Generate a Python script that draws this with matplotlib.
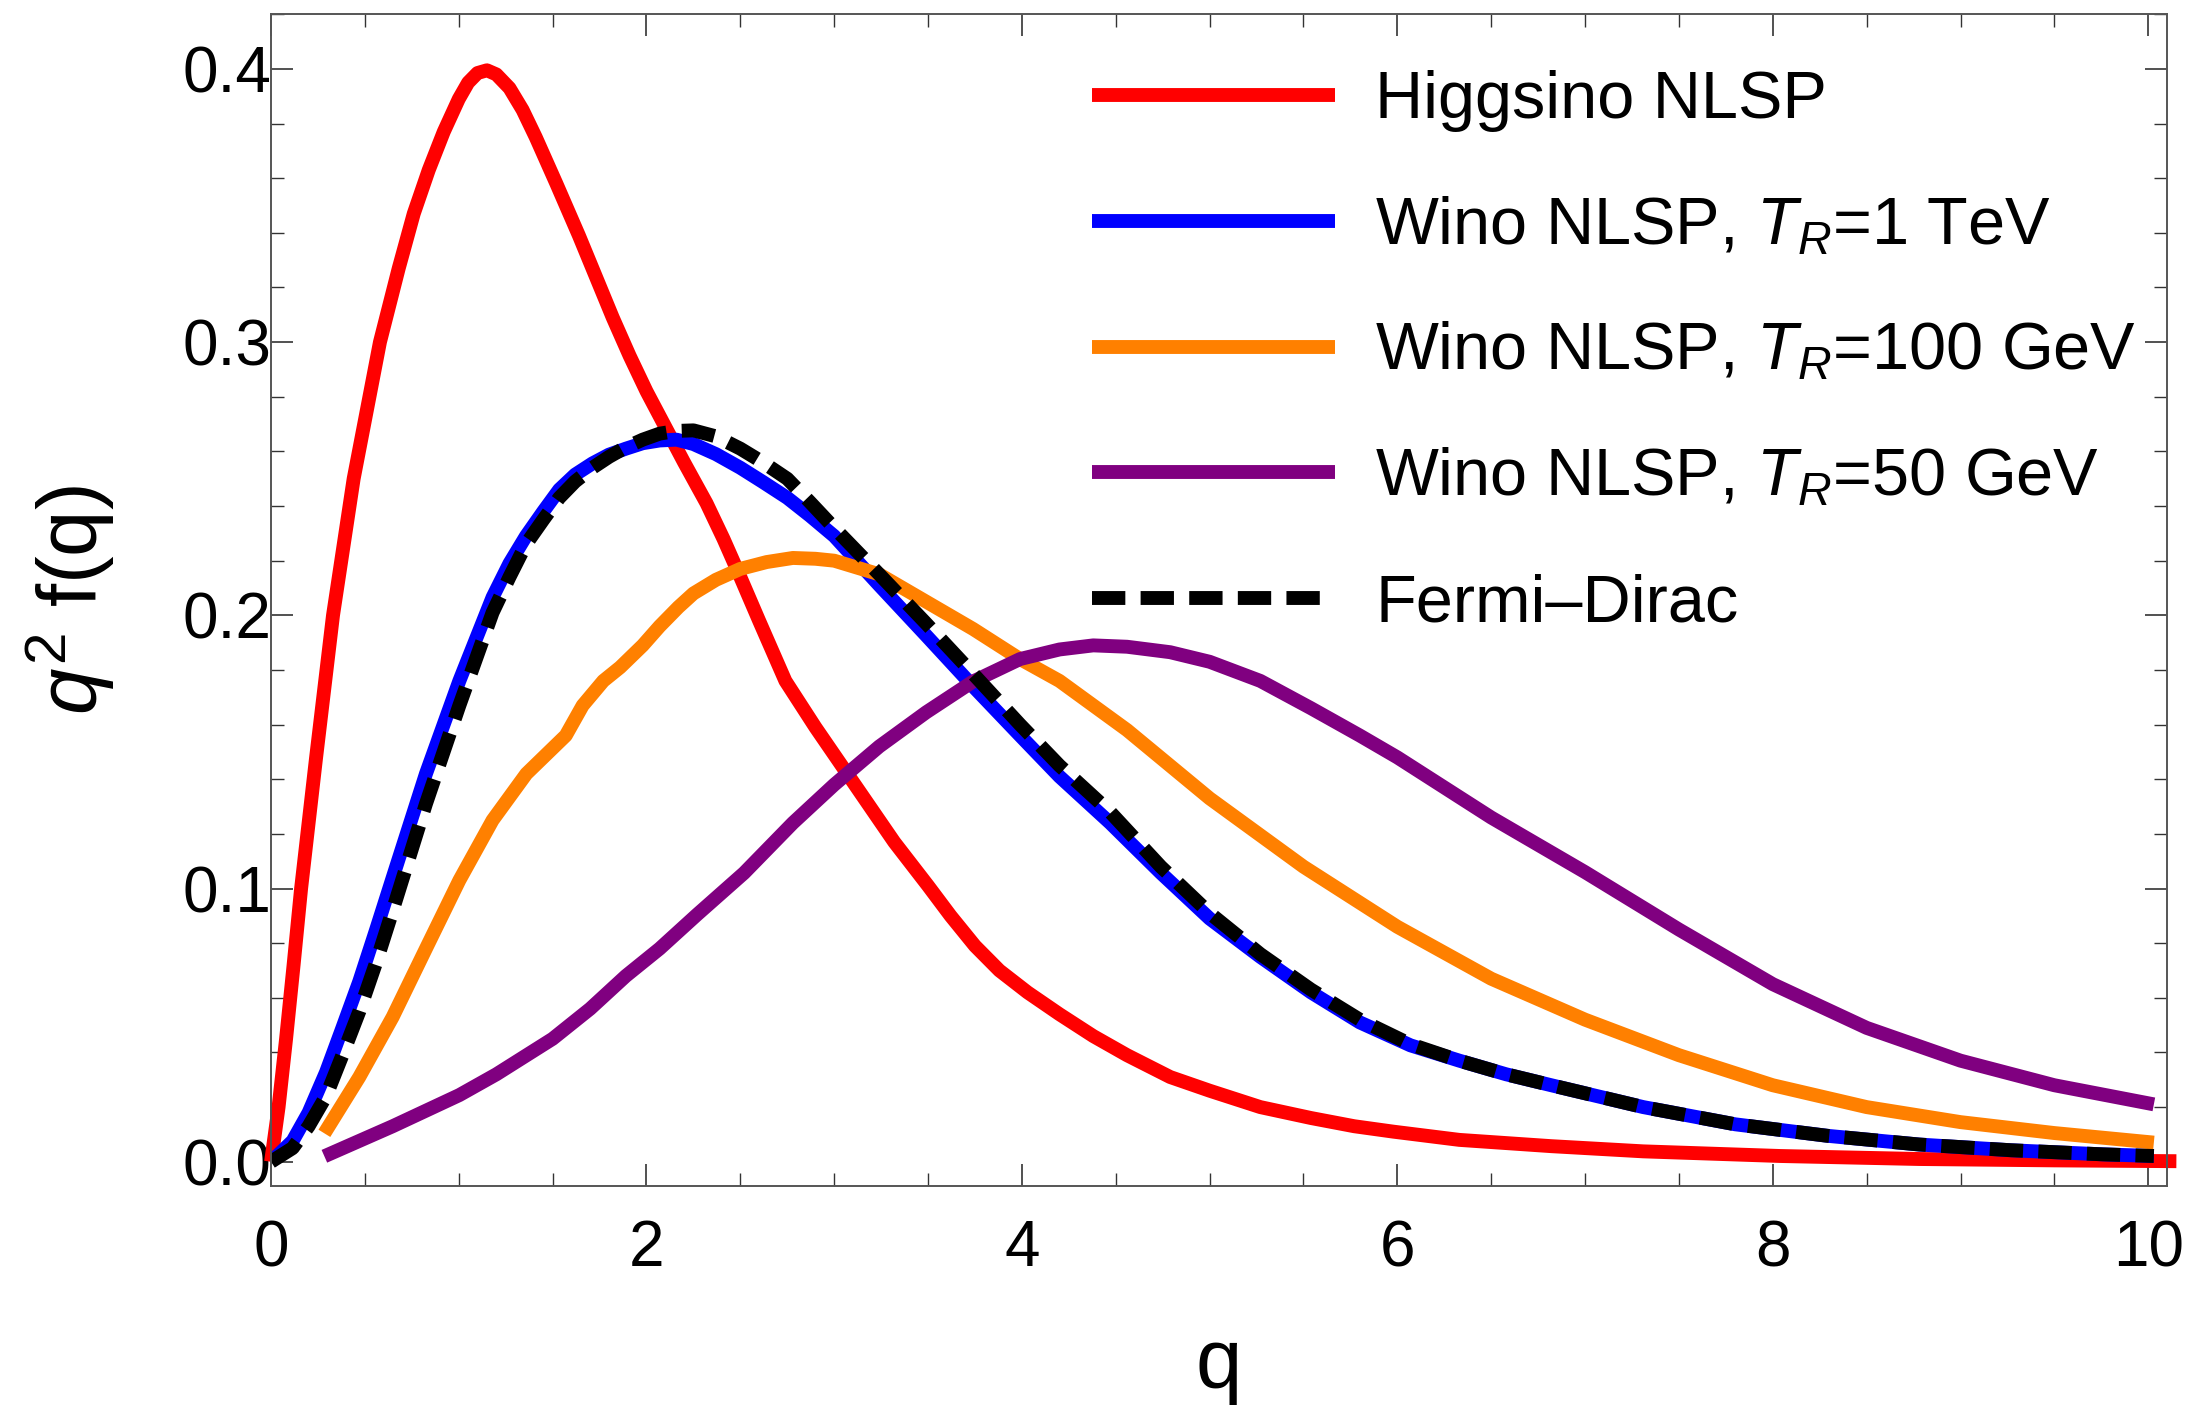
import matplotlib
matplotlib.use("Agg")
import matplotlib.pyplot as plt
from matplotlib.ticker import MultipleLocator, FormatStrFormatter

plt.rcParams['font.family'] = ['Liberation Sans', 'DejaVu Sans']
plt.rcParams['mathtext.fontset'] = 'custom'
plt.rcParams['mathtext.rm'] = 'Liberation Sans'
plt.rcParams['mathtext.it'] = 'Liberation Sans:italic'

# Higgsino NLSP (red)
q_higgsino = [0, 0.04, 0.08, 0.12, 0.16, 0.24, 0.33, 0.44, 0.58, 0.68, 0.76, 0.84, 0.92, 1.0,
              1.05, 1.1, 1.15, 1.2, 1.27, 1.34, 1.41, 1.52, 1.64, 1.73, 1.82, 1.91, 2.0, 2.1,
              2.2, 2.32, 2.41, 2.5, 2.6, 2.74, 2.9, 3.07, 3.2, 3.32, 3.5, 3.62, 3.75, 3.88,
              4.03, 4.2, 4.38, 4.56, 4.79, 5.0, 5.27, 5.54, 5.77, 5.98, 6.33, 6.82, 7.31, 8.04,
              8.78, 9.5, 10.15]
f_higgsino = [0, 0.020, 0.045, 0.072, 0.100, 0.148, 0.200, 0.250, 0.300, 0.327, 0.347, 0.363, 0.377, 0.389,
              0.395, 0.3985, 0.3995, 0.398, 0.393, 0.385, 0.375, 0.358, 0.339, 0.324, 0.309, 0.295, 0.282, 0.269,
              0.256, 0.241, 0.228, 0.214, 0.198, 0.176, 0.159, 0.142, 0.129, 0.117, 0.101, 0.090, 0.079, 0.070,
              0.062, 0.054, 0.046, 0.039, 0.031, 0.026, 0.020, 0.016, 0.013, 0.011, 0.008, 0.0057, 0.0038, 0.0021,
              0.001, 0.0005, 0.0002]

# Wino NLSP, T_R = 1 TeV (blue)
q_wino1tev = [0, 0.115, 0.2, 0.293, 0.38, 0.47, 0.56, 0.648, 0.825, 1.003, 1.18, 1.27, 1.358,
              1.45, 1.535, 1.62, 1.712, 1.8, 1.89, 1.98, 2.07, 2.16, 2.25, 2.37, 2.5, 2.62,
              2.75, 2.87, 3.0, 3.24, 3.49, 3.74, 3.99, 4.2, 4.47, 4.74, 5.0, 5.27, 5.54, 5.8,
              6.07, 6.33, 6.58, 6.82, 7.31, 7.8, 8.29, 8.78, 9.27, 9.76, 10.03]
f_wino1tev = [0, 0.0076, 0.018, 0.0328, 0.049, 0.066, 0.085, 0.104, 0.142, 0.176, 0.2066, 0.219, 0.229,
              0.238, 0.246, 0.2515, 0.2556, 0.2588, 0.261, 0.263, 0.264, 0.2643, 0.2627, 0.259, 0.254, 0.2488,
              0.243, 0.2365, 0.229, 0.211, 0.1926, 0.174, 0.156, 0.141, 0.124, 0.1057, 0.089, 0.075, 0.062, 0.051,
              0.0426, 0.037, 0.032, 0.028, 0.020, 0.0137, 0.0095, 0.0063, 0.0042, 0.0027, 0.0021]

# Wino NLSP, T_R = 100 GeV (orange)
q_wino100 = [0.284, 0.47, 0.648, 0.825, 1.003, 1.18, 1.36, 1.48, 1.57, 1.66, 1.77, 1.86, 1.98,
             2.07, 2.17, 2.25, 2.37, 2.5, 2.64, 2.78, 2.9, 3.0, 3.24, 3.49, 3.74, 3.99, 4.2,
             4.56, 5.0, 5.5, 6.0, 6.5, 7.0, 7.5, 8.0, 8.5, 9.0, 9.5, 10.03]
f_wino100 = [0.0104, 0.031, 0.053, 0.078, 0.103, 0.125, 0.142, 0.150, 0.156, 0.167, 0.176, 0.181, 0.189,
             0.196, 0.203, 0.208, 0.213, 0.217, 0.2195, 0.221, 0.2207, 0.220, 0.215, 0.205, 0.195, 0.184, 0.176,
             0.158, 0.133, 0.108, 0.086, 0.067, 0.052, 0.039, 0.028, 0.020, 0.0145, 0.0105, 0.0070]

# Wino NLSP, T_R = 50 GeV (purple)
q_wino50 = [0.284, 0.648, 1.003, 1.2, 1.5, 1.7, 1.89, 2.07, 2.27, 2.52, 2.78, 3.0, 3.24, 3.49,
            3.74, 3.99, 4.2, 4.38, 4.56, 4.79, 5.0, 5.27, 5.54, 5.8, 6.0, 6.5, 7.0, 7.5, 8.0,
            8.5, 9.0, 9.5, 10.03]
f_wino50 = [0.002, 0.013, 0.0244, 0.032, 0.045, 0.056, 0.068, 0.078, 0.0905, 0.1057, 0.124, 0.138, 0.152, 0.1645,
            0.1758, 0.184, 0.1875, 0.189, 0.1885, 0.1865, 0.183, 0.176, 0.166, 0.156, 0.148, 0.126, 0.106, 0.085, 0.065,
            0.049, 0.037, 0.028, 0.021]

# Fermi-Dirac (black dashed)
q_fd = [0, 0.115, 0.2, 0.293, 0.38, 0.47, 0.56, 0.648, 0.825, 1.003, 1.18, 1.27, 1.358, 1.45,
        1.535, 1.62, 1.712, 1.8, 1.89, 1.98, 2.07, 2.16, 2.25, 2.37, 2.5, 2.62, 2.75, 2.87,
        3.0, 3.24, 3.49, 3.74, 3.99, 4.2, 4.47, 4.74, 5.0, 5.27, 5.54, 5.8, 6.07, 6.33,
        6.58, 6.82, 7.31, 7.8, 8.29, 8.78, 9.27, 9.76, 10.03]
f_fd = [0, 0.005, 0.013, 0.024, 0.039, 0.055, 0.073, 0.092, 0.131, 0.167, 0.201, 0.214, 0.226, 0.235,
        0.243, 0.249, 0.254, 0.258, 0.2615, 0.2643, 0.2665, 0.2675, 0.2677, 0.2655, 0.261, 0.256, 0.250, 0.2415,
        0.232, 0.215, 0.197, 0.1786, 0.160, 0.145, 0.128, 0.108, 0.091, 0.076, 0.063, 0.052, 0.043, 0.037,
        0.032, 0.028, 0.020, 0.0137, 0.0095, 0.0063, 0.0042, 0.0027, 0.0021]

labels = ['Higgsino NLSP', 'Wino NLSP, $T_R$=1 TeV', 'Wino NLSP, $T_R$=100 GeV',
          'Wino NLSP, $T_R$=50 GeV', 'Fermi\u2013Dirac']

LW = 10
FS = 46

fig = plt.figure(figsize=(22.02, 14.15), dpi=100)
ax = fig.add_axes([0.1231, 0.1618, 0.861, 0.8283])

ax.plot(q_higgsino, f_higgsino, color='#ff0000', lw=LW, label=labels[0],
        solid_capstyle='butt', solid_joinstyle='round', clip_on=False)
ax.plot(q_wino1tev, f_wino1tev, color='#0000ff', lw=LW, label=labels[1],
        solid_capstyle='butt', solid_joinstyle='round')
ax.plot(q_wino100, f_wino100, color='#ff8000', lw=LW, label=labels[2],
        solid_capstyle='butt', solid_joinstyle='round')
ax.plot(q_wino50, f_wino50, color='#800080', lw=LW, label=labels[3],
        solid_capstyle='butt', solid_joinstyle='round')
ax.plot(q_fd, f_fd, color='black', lw=LW, ls=(0, (2.4, 1.1)), label=labels[4],
        dash_capstyle='butt')

ax.set_xlim(0, 10.1)
ax.set_ylim(-0.0089, 0.4201)

ax.xaxis.set_major_locator(MultipleLocator(2))
ax.xaxis.set_minor_locator(MultipleLocator(0.5))
ax.yaxis.set_major_locator(MultipleLocator(0.1))
ax.yaxis.set_minor_locator(MultipleLocator(0.02))
ax.yaxis.set_major_formatter(FormatStrFormatter('%.1f'))

ax.tick_params(which='both', direction='in', top=True, right=True, color='#333333',
               labelsize=FS)
ax.tick_params(which='major', length=15.8, width=1.2)
ax.tick_params(which='minor', length=9.4, width=1.0)
ax.tick_params(axis='x', which='major', pad=24)
ax.tick_params(axis='y', which='major', pad=0)
for s in ax.spines.values():
    s.set_color('#555555')
    s.set_linewidth(1.4)

ax.set_xlabel('q', fontsize=60)
ax.set_ylabel('$q^2$ f(q)', fontsize=60)
ax.xaxis.set_label_coords(0.5, -0.12)
ax.yaxis.set_label_coords(-0.081, 0.5)

ax.legend(loc='upper left', bbox_to_anchor=(0.433, 0.952), frameon=False, fontsize=48,
          handlelength=3.65, handletextpad=0.6, labelspacing=0.95, borderpad=0,
          borderaxespad=0)

fig.savefig('out.png', dpi=100)
